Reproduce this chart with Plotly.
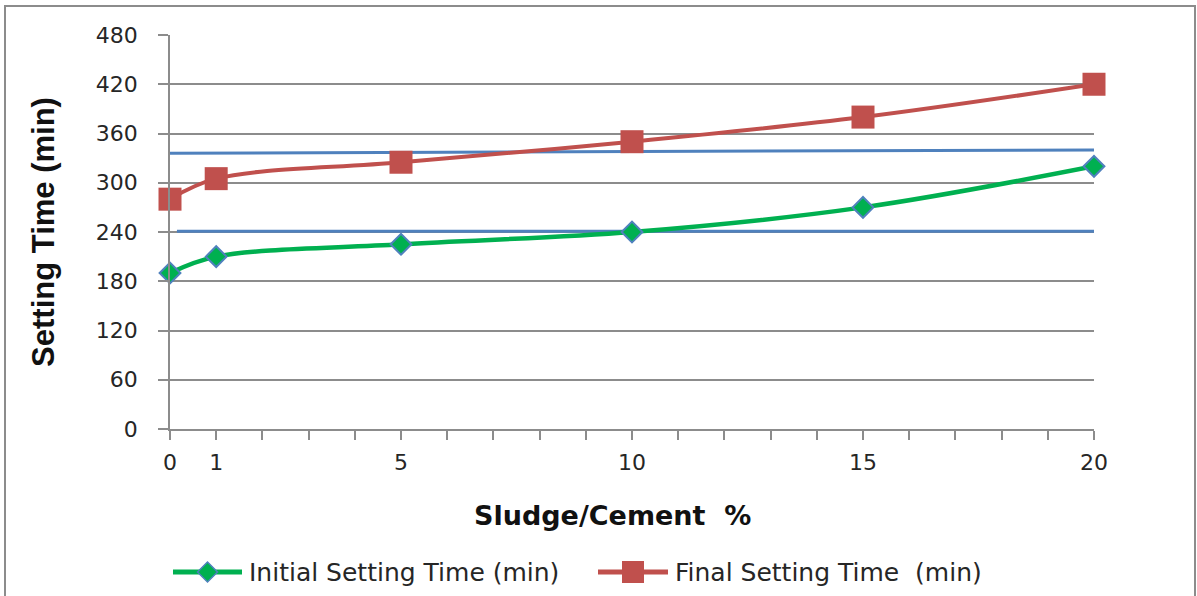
import plotly.graph_objects as go

# Sludge replacement levels (% of cement)
sludge_pct = [0, 1, 5, 10, 15, 20]

# Setting times (min)
initial_setting = [190, 210, 225, 240, 270, 320]
final_setting = [280, 305, 325, 350, 380, 420]

# Reference limit lines (min)
upper_ref_x = [0, 20]
upper_ref_y = [336, 340]
lower_ref_x = [0.15, 20]
lower_ref_y = [241, 241]

y_ticks = [0, 60, 120, 180, 240, 300, 360, 420, 480]
x_ticks = [0, 1, 5, 10, 15, 20]

series_names = ["Initial Setting Time (min)", "Final Setting Time  (min)"]

GREEN = "#00B050"
RED = "#C0504D"
BLUE = "#4F81BD"
GRID = "#8C8C8C"
TEXT = "#262626"

W, H = 1197, 596
M_L, M_R, M_T, M_B = 170, 103, 35, 167
plot_w = W - M_L - M_R
plot_h = H - M_T - M_B


def px_x(px):
    """Pixel column -> paper x fraction."""
    return (px - M_L) / plot_w


def px_y(py):
    """Pixel row -> paper y fraction."""
    return (H - M_B - py) / plot_h


fig = go.Figure()

fig.add_trace(go.Scatter(
    x=upper_ref_x, y=upper_ref_y, mode="lines",
    line=dict(color=BLUE, width=3), showlegend=False, hoverinfo="skip"))
fig.add_trace(go.Scatter(
    x=lower_ref_x, y=lower_ref_y, mode="lines",
    line=dict(color=BLUE, width=3), showlegend=False, hoverinfo="skip"))

fig.add_trace(go.Scatter(
    x=sludge_pct, y=initial_setting, mode="lines+markers",
    name=series_names[0], showlegend=False,
    line=dict(color=GREEN, width=4.5, shape="spline", smoothing=1),
    marker=dict(symbol="diamond", size=16, color=GREEN,
                line=dict(color=BLUE, width=2)),
    cliponaxis=False))
fig.add_trace(go.Scatter(
    x=sludge_pct, y=final_setting, mode="lines+markers",
    name=series_names[1], showlegend=False,
    line=dict(color=RED, width=4, shape="spline", smoothing=1),
    marker=dict(symbol="square", size=23, color=RED,
                line=dict(color=RED, width=0)),
    cliponaxis=False))

# Outer chart frame
fig.add_shape(type="rect", xref="paper", yref="paper",
              x0=px_x(5), x1=px_x(1195), y0=px_y(640), y1=px_y(6),
              line=dict(color=GRID, width=2), fillcolor="rgba(0,0,0,0)",
              layer="below")

# Legend row below the axis title
LEG_Y = 572
legend_items = [
    dict(x0=173, x1=242, text_x=247, color=GREEN, symbol="diamond"),
    dict(x0=598, x1=668, text_x=673, color=RED, symbol="square"),
]
for item, label in zip(legend_items, series_names):
    fig.add_shape(type="line", xref="paper", yref="paper",
                  x0=px_x(item["x0"]), x1=px_x(item["x1"]),
                  y0=px_y(LEG_Y), y1=px_y(LEG_Y),
                  line=dict(color=item["color"], width=5))
    cx = (item["x0"] + item["x1"]) / 2
    if item["symbol"] == "diamond":
        hw, hh = 10, 10
        path = (f"M {px_x(cx - hw)},{px_y(LEG_Y)} "
                f"L {px_x(cx)},{px_y(LEG_Y - hh)} "
                f"L {px_x(cx + hw)},{px_y(LEG_Y)} "
                f"L {px_x(cx)},{px_y(LEG_Y + hh)} Z")
        fig.add_shape(type="path", xref="paper", yref="paper", path=path,
                      fillcolor=GREEN, line=dict(color=BLUE, width=1.5))
    else:
        hs = 11
        fig.add_shape(type="rect", xref="paper", yref="paper",
                      x0=px_x(cx - hs), x1=px_x(cx + hs),
                      y0=px_y(LEG_Y + hs), y1=px_y(LEG_Y - hs),
                      fillcolor=RED, line=dict(color=RED, width=0))
    fig.add_annotation(xref="paper", yref="paper",
                       x=px_x(item["text_x"]), y=px_y(LEG_Y),
                       xanchor="left", yanchor="middle", showarrow=False,
                       text=label,
                       font=dict(family="DejaVu Sans", size=25, color=TEXT))

# X-axis title
fig.add_annotation(xref="paper", yref="paper",
                   x=px_x(612), y=px_y(515), xanchor="center", yanchor="middle",
                   showarrow=False, text="Sludge/Cement  %",
                   font=dict(family="DejaVu Sans", size=27, color="#111111",
                             weight="bold"))

fig.update_layout(
    template="none",
    width=W, height=H,
    margin=dict(l=M_L, r=M_R, t=M_T, b=M_B, pad=0),
    paper_bgcolor="white", plot_bgcolor="white",
    font=dict(family="DejaVu Sans", size=22, color=TEXT),
    showlegend=False,
    xaxis=dict(
        range=[0, 20], tickmode="array", tickvals=x_ticks,
        ticktext=[str(v) for v in x_ticks],
        showgrid=False, zeroline=False,
        showline=True, linecolor=GRID, linewidth=1.5,
        ticks="outside", ticklen=9, tickcolor=GRID, tickwidth=1.5,
        minor=dict(dtick=1, tick0=0, ticks="outside", ticklen=9,
                   tickcolor=GRID, tickwidth=1.5, showgrid=False),
        ticklabelstandoff=4,
        tickfont=dict(family="DejaVu Sans", size=22, color=TEXT),
        automargin=False,
    ),
    yaxis=dict(
        range=[0, 480], tickmode="array", tickvals=y_ticks,
        showgrid=True, gridcolor=GRID, gridwidth=1.5, zeroline=False,
        showline=True, linecolor=GRID, linewidth=1.5,
        ticks="outside", ticklen=10, tickcolor=GRID, tickwidth=1.5,
        ticklabelstandoff=16,
        tickfont=dict(family="DejaVu Sans", size=22, color=TEXT),
        automargin=False,
        title=dict(text="Setting Time (min)", standoff=32,
                   font=dict(family="Liberation Sans", size=31, color="#111111",
                             weight="bold")),
    ),
)

fig.write_html("out.html")
